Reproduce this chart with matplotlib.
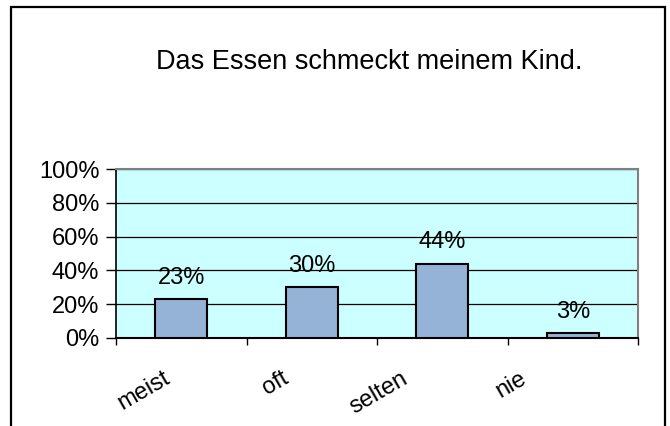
import matplotlib.pyplot as plt
from matplotlib.patches import Rectangle

# survey answers
categories = ["meist", "oft", "selten", "nie"]
shares = [23, 30, 44, 3]
labels = ["23%", "30%", "44%", "3%"]
yticks = [0, 20, 40, 60, 80, 100]
title = "Das Essen schmeckt meinem Kind."

plt.rcParams['font.family'] = ['Liberation Sans', 'DejaVu Sans']

fig = plt.figure(figsize=(6.7, 4.26), dpi=100)

# outer chart frame (bottom edge is cut off in the original)
fig.patches.append(Rectangle((11 / 670, -0.05), (665 - 11) / 670, 1.05 - 7 / 426,
                             transform=fig.transFigure, fill=False,
                             edgecolor='black', lw=1.6, clip_on=False))

ax = fig.add_axes([116 / 670, 88 / 426, 522 / 670, 169 / 426])
ax.set_facecolor('#CCFFFF')

x = list(range(len(categories)))
ax.bar(x, shares, width=0.4, color='#95B3D7', edgecolor='black', lw=1.5, zorder=3)
for xi, v, lab in zip(x, shares, labels):
    ax.text(xi, v + 9, lab, ha='center', va='baseline', fontsize=17, zorder=4)

ax.set_xlim(-0.5, len(categories) - 0.5)
ax.set_ylim(0, 100)
ax.set_yticks(yticks)
ax.set_yticklabels([f"{t}%" for t in yticks], fontsize=17)
ax.yaxis.grid(True, color='black', lw=0.9)
ax.set_axisbelow(True)

ax.set_xticks([i - 0.5 for i in range(len(categories) + 1)])
ax.set_xticklabels([])
ax.tick_params(axis='x', length=5, width=1, color='black', direction='out')
ax.tick_params(axis='y', length=7, width=1, color='black', direction='out', pad=5)

# rotated category labels, Excel-style: right end drifts left of centre
for xi, c in zip(x, categories):
    ax.text(xi - (13 + 11.7 * xi) / 130.5, -23, c, rotation=30, ha='right',
            va='center', rotation_mode='anchor', fontsize=17, clip_on=False)

for side in ['top', 'right']:
    ax.spines[side].set_color('#808080')
    ax.spines[side].set_linewidth(1.5)
ax.spines['left'].set_color('black')
ax.spines['bottom'].set_color('black')
ax.spines['left'].set_linewidth(1.2)
ax.spines['bottom'].set_linewidth(1.5)

fig.text(369 / 670, 1 - 62 / 426, title, ha='center', va='center', fontsize=19.5)

fig.savefig("out.png", dpi=100)
